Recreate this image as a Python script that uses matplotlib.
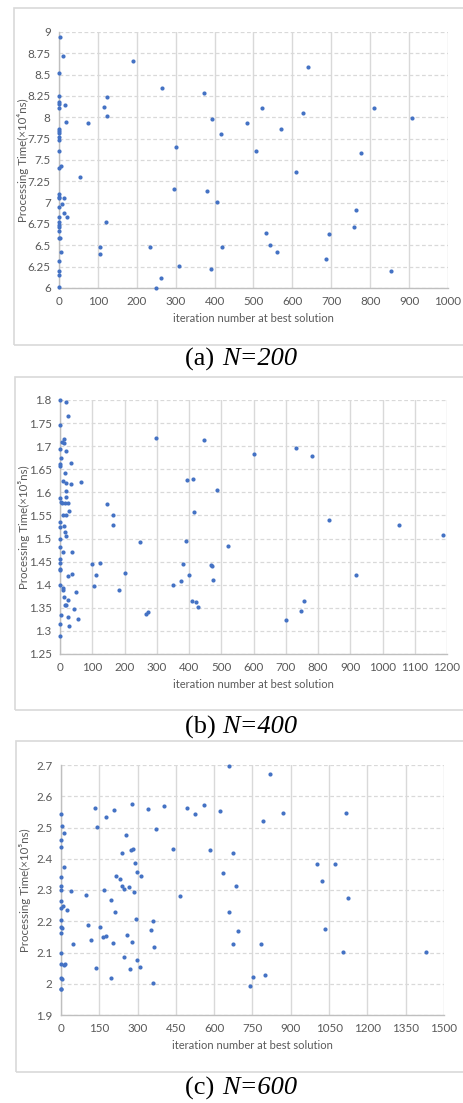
'''
Scatter of processing time vs iteration number at best solution, N=200/400/600
'''

import matplotlib.pyplot as plt
import matplotlib.patches as patches
from matplotlib.ticker import FormatStrFormatter, FuncFormatter
import numpy as np

# N=200, processing time in 1e4 ns
iter_200 = [2, 10, 190, 0, 640, 264, 373, 0, 123, 0, 0, 15, 0, 116, 523, 811, 627, 124,
            393, 907, 17, 75, 484, 570, 0, 0, 0, 416, 0, 0, 301, 0, 507, 777, 0, 4, 610,
            55, 296, 380, 0, 0, 0, 14, 405, 7, 0, 13, 764, 21, 0, 120, 0, 0, 0, 0, 758,
            532, 0, 3, 693, 105, 234, 418, 542, 4, 560, 105, 686, 0, 309, 390, 854, 0, 0,
            261, 0, 249]
time_200 = [8.94, 8.72, 8.66, 8.52, 8.59, 8.34, 8.28, 8.25, 8.24, 8.18, 8.16, 8.15, 8.11,
            8.12, 8.11, 8.11, 8.05, 8.02, 7.98, 7.99, 7.95, 7.93, 7.93, 7.86, 7.86, 7.84,
            7.82, 7.80, 7.77, 7.73, 7.65, 7.61, 7.61, 7.58, 7.41, 7.43, 7.36, 7.30, 7.16,
            7.14, 7.10, 7.07, 7.05, 7.05, 7.01, 6.99, 6.95, 6.88, 6.91, 6.83, 6.83, 6.77,
            6.77, 6.74, 6.71, 6.67, 6.71, 6.65, 6.59, 6.59, 6.63, 6.48, 6.48, 6.48, 6.50,
            6.42, 6.42, 6.40, 6.34, 6.32, 6.26, 6.22, 6.20, 6.20, 6.15, 6.12, 6.01, 6.00]

# N=400, processing time in 1e5 ns
iter_400 = [0, 20, 26, 0, 12, 7, 12, 0, 20, 299, 445, 732, 603, 780, 3, 34, 1, 0, 14, 65,
            9, 20, 33, 395, 413, 488, 20, 0, 20, 3, 7, 16, 24, 147, 8, 20, 163, 28, 415,
            0, 163, 1, 11, 14, 20, 0, 834, 1052, 1187, 249, 391, 522, 0, 8, 38, 1, 0, 0,
            0, 98, 125, 380, 469, 471, 37, 201, 24, 113, 399, 918, 473, 376, 0, 106, 350,
            8, 10, 184, 49, 11, 24, 410, 423, 758, 14, 19, 43, 428, 3, 266, 272, 747, 25,
            56, 702, 0, 27, 0]
time_400 = [1.799, 1.796, 1.766, 1.745, 1.716, 1.709, 1.706, 1.693, 1.690, 1.717, 1.714,
            1.696, 1.684, 1.678, 1.675, 1.664, 1.661, 1.658, 1.642, 1.623, 1.625, 1.621,
            1.619, 1.626, 1.628, 1.605, 1.603, 1.588, 1.589, 1.579, 1.577, 1.576, 1.578,
            1.574, 1.552, 1.552, 1.552, 1.559, 1.557, 1.536, 1.529, 1.524, 1.527, 1.515,
            1.505, 1.499, 1.541, 1.530, 1.508, 1.493, 1.495, 1.483, 1.482, 1.470, 1.471,
            1.456, 1.446, 1.435, 1.431, 1.444, 1.446, 1.444, 1.442, 1.440, 1.424, 1.425,
            1.418, 1.420, 1.421, 1.420, 1.411, 1.409, 1.399, 1.397, 1.400, 1.393, 1.388,
            1.388, 1.384, 1.373, 1.368, 1.364, 1.363, 1.364, 1.357, 1.357, 1.348, 1.351,
            1.335, 1.337, 1.341, 1.343, 1.331, 1.326, 1.323, 1.315, 1.310, 1.288]

# N=600, processing time in 1e5 ns
iter_600 = [658, 818, 133, 280, 209, 340, 403, 495, 561, 525, 622, 871, 1118, 0, 177, 791,
            142, 3, 373, 12, 253, 1, 0, 438, 282, 274, 584, 240, 675, 1003, 1074, 13, 291,
            296, 635, 216, 314, 0, 233, 1022, 0, 238, 267, 686, 247, 168, 0, 38, 287, 99,
            467, 1123, 1, 194, 7, 0, 22, 213, 657, 0, 292, 361, 107, 151, 0, 4, 353, 1033,
            695, 0, 258, 177, 164, 116, 48, 205, 280, 675, 784, 365, 1430, 1104, 1, 245,
            1, 13, 17, 299, 137, 310, 272, 1, 5, 197, 752, 799, 361, 742, 0, 1]
time_600 = [2.696, 2.672, 2.562, 2.574, 2.556, 2.559, 2.569, 2.564, 2.571, 2.544, 2.553,
            2.548, 2.546, 2.543, 2.534, 2.522, 2.501, 2.505, 2.495, 2.484, 2.477, 2.460,
            2.437, 2.431, 2.431, 2.427, 2.427, 2.420, 2.420, 2.383, 2.382, 2.373, 2.385,
            2.357, 2.355, 2.346, 2.344, 2.341, 2.336, 2.330, 2.314, 2.313, 2.311, 2.313,
            2.303, 2.301, 2.299, 2.298, 2.295, 2.285, 2.280, 2.276, 2.264, 2.267, 2.248,
            2.241, 2.235, 2.231, 2.230, 2.204, 2.207, 2.202, 2.188, 2.183, 2.181, 2.178,
            2.172, 2.176, 2.169, 2.162, 2.155, 2.154, 2.151, 2.140, 2.128, 2.132, 2.135,
            2.128, 2.126, 2.117, 2.103, 2.101, 2.097, 2.087, 2.062, 2.059, 2.062, 2.077,
            2.051, 2.053, 2.046, 2.019, 2.016, 2.019, 2.021, 2.028, 2.002, 1.994, 1.984,
            1.982]

captions = ['(a) ', '(b) ', '(c) ']
cap_n = ['N=200', 'N=400', 'N=600']
ylabels = ['Processing Time(\u00d710\u2074ns)', 'Processing Time(\u00d710\u2075ns)',
           'Processing Time(\u00d710\u2075ns)']

W, H = 463, 1103
BLUE = '#4472C4'
GRID = '#D9D9D9'
TXT = '#595959'
FONT = ['Lato', 'DejaVu Sans']

plt.rcParams['font.family'] = FONT

fig = plt.figure(figsize=(W / 100, H / 100), dpi=100)


def px_box(left, top, right, bottom):
    '''pixel box -> figure fraction [l, b, w, h]'''
    return [left / W, 1 - bottom / H, (right - left) / W, (bottom - top) / H]


def draw_panel(box, frame, x, y, xlim, xstep, ylim, ystep, ylabel, cap, capn, cap_y):
    # grey frame around the chart (runs off the right edge)
    fl, ft, fb = frame
    fig.add_artist(patches.Rectangle((fl / W, 1 - fb / H), (W + 30 - fl) / W, (fb - ft) / H,
                                     transform=fig.transFigure, fill=False,
                                     edgecolor=GRID, lw=1.2))
    ax = fig.add_axes(px_box(*box))
    ax.scatter(x, y, s=9, color=BLUE, linewidths=0, zorder=3, clip_on=False)
    ax.set_xlim(*xlim)
    ax.set_ylim(*ylim)
    ax.set_xticks(np.arange(xlim[0], xlim[1] + 1, xstep))
    ax.set_yticks(np.arange(ylim[0], ylim[1] + ystep / 2, ystep))
    ax.xaxis.set_major_formatter(FormatStrFormatter('%d'))
    ax.yaxis.set_major_formatter(FuncFormatter(lambda v, p: '%g' % round(v, 3)))
    ax.tick_params(length=0, labelsize=8.4, colors=TXT, pad=6)
    ax.tick_params(axis='x', pad=6)
    ax.grid(axis='x', color=GRID, lw=1.0, ls='-')
    ax.grid(axis='y', color=GRID, lw=0.9, ls=(0, (3, 2)))
    ax.set_axisbelow(True)
    for side in ['top', 'right']:
        ax.spines[side].set_visible(False)
    for side in ['left', 'bottom']:
        ax.spines[side].set_color('#BFBFBF')
        ax.spines[side].set_linewidth(1.0)
    ax.set_ylabel(ylabel, fontsize=8.3, color=TXT)
    # right edge of the rotated label about 30 px left of the y axis
    ax.yaxis.set_label_coords(-30 / (box[2] - box[0]), 0.5)
    ax.set_xlabel('iteration number at best solution', fontsize=8.0, color=TXT, labelpad=4)
    fig.text(185 / W, 1 - cap_y / H, cap, family='Liberation Serif', fontsize=19,
             ha='left', va='center')
    fig.text(222 / W, 1 - cap_y / H, capn, family='Liberation Serif', style='italic',
             fontsize=19, ha='left', va='center')
    return ax


draw_panel((59, 32, 448, 288), (14, 8, 345), iter_200, time_200, (0, 1000), 100,
           (6, 9), 0.25, ylabels[0], captions[0], cap_n[0], 359)
draw_panel((60, 400, 447, 654), (15, 377, 710), iter_400, time_400, (0, 1200), 100,
           (1.25, 1.8), 0.05, ylabels[1], captions[1], cap_n[1], 727)
draw_panel((61, 765, 444, 1015), (16, 741, 1072), iter_600, time_600, (0, 1500), 150,
           (1.9, 2.7), 0.1, ylabels[2], captions[2], cap_n[2], 1088)

fig.savefig('out.png', dpi=100)
